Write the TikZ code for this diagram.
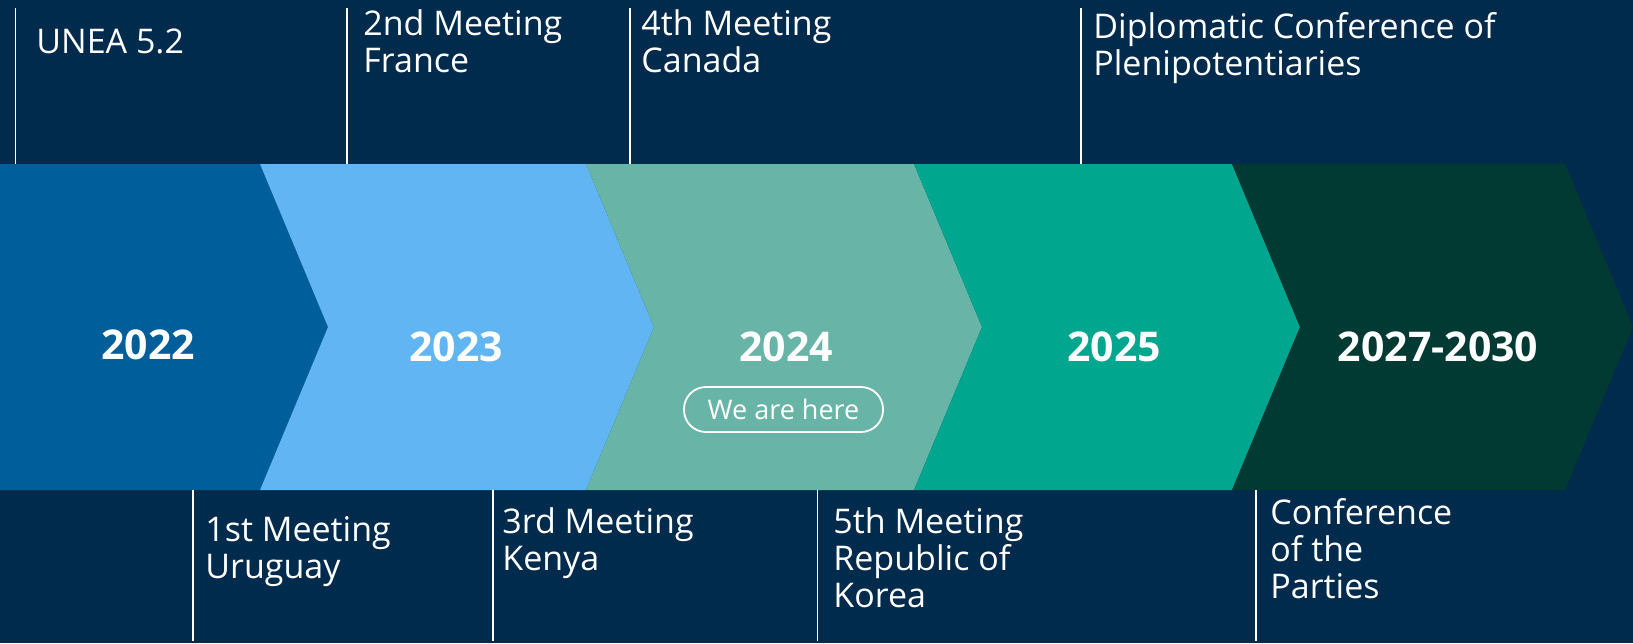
\documentclass[tikz,border=0pt]{standalone}
\usepackage{fontspec}
\setmainfont{Open Sans}
\usepackage{tikz}
\usetikzlibrary{positioning}
\usepackage{xcolor}

\definecolor{navy}{HTML}{002B4C}
\definecolor{blueA}{HTML}{005F9B}
\definecolor{blueB}{HTML}{62B5F3}
\definecolor{sage}{HTML}{68B5A7}
\definecolor{teal}{HTML}{00A68D}
\definecolor{pine}{HTML}{003A32}

\tikzset{
  tick/.style={white, line width=0.8pt},
  evt/.style={white, anchor=base west, align=left, inner sep=0pt,
    font=\fontsize{17}{18.5}\selectfont},
  yr/.style={white, inner sep=0pt, font=\fontsize{20.5}{24}\selectfont\bfseries},
  herebox/.style={draw=white, line width=0.9pt, text=white, rounded corners=11pt,
    minimum width=99.5pt, minimum height=22.5pt, inner sep=0pt,
    font=\fontsize{13.5}{16}\selectfont},
}

\begin{document}
\begin{tikzpicture}[x=0.5pt, y=-0.5pt]
\useasboundingbox (0,0) rectangle (1633,643);
\fill[navy] (0,0) rectangle (1633,643);
\coordinate (bandtop) at (0,164);
\coordinate (bandbot) at (0,490);
% chevrons
\fill[blueA] (0,164) -- (260,164) -- (328,327) -- (260,490) -- (0,490) -- cycle;
\fill[blueB] (260,164) -- (586,164) -- (654,327) -- (586,490) -- (260,490) -- (328,327) -- cycle;
\fill[sage] (586,164) -- (914,164) -- (982,327) -- (914,490) -- (586,490) -- (654,327) -- cycle;
\fill[teal] (914,164) -- (1232,164) -- (1300,327) -- (1232,490) -- (914,490) -- (982,327) -- cycle;
\fill[pine] (1232,164) -- (1565,164) -- (1633,327) -- (1565,490) -- (1232,490) -- (1300,327) -- cycle;
% years
\node[yr] (y2022) at (148,345) {2022};
\node[yr] (y2023) at (456,347) {2023};
\node[yr] (y2024) at (786,347) {2024};
\node[yr] (y2025) at (1114,347) {2025};
\node[yr] (y2027) at (1438,347) {2027-2030};
\node[herebox] (here) at (783.5,409.5) {We are here};
% ticks above
\coordinate (ta) at (15.6,8);
\coordinate (tb) at (347,8);
\coordinate (tc) at (630,8);
\coordinate (td) at (1081,8);
\draw[tick] (ta) -- (ta |- bandtop);
\draw[tick] (tb) -- (tb |- bandtop);
\draw[tick] (tc) -- (tc |- bandtop);
\draw[tick] (td) -- (td |- bandtop);
% ticks below
\coordinate (ba) at (193,641);
\coordinate (bb) at (493,641);
\coordinate (bc) at (817.5,641);
\coordinate (bd) at (1256,641);
\draw[tick] (ba |- bandbot) -- (ba);
\draw[tick] (bb |- bandbot) -- (bb);
\draw[tick] (bc |- bandbot) -- (bc);
\draw[tick] (bd |- bandbot) -- (bd);
% events (base = last line)
\node[evt] (unea) at (36,53) {UNEA 5.2};
\node[evt] (mtg2) at (363,72.5) {2nd Meeting\\France};
\node[evt] (mtg4) at (641,72.5) {4th Meeting\\Canada};
\node[evt] (dipl) at (1093,75) {Diplomatic Conference of\\Plenipotentiaries};
\node[evt] (mtg1) at (205,578) {1st Meeting\\Uruguay};
\node[evt] (mtg3) at (502,570) {3rd Meeting\\Kenya};
\node[evt] (mtg5) at (833,607) {5th Meeting\\Republic of\\Korea};
\node[evt] (cop) at (1270,598) {Conference\\of the\\Parties};
\end{tikzpicture}
\end{document}
